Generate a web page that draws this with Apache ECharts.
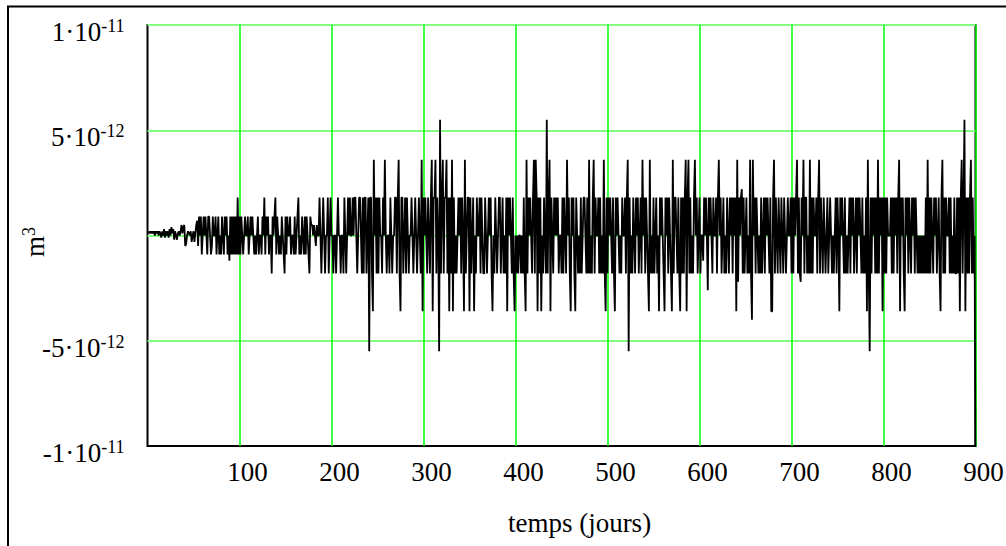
<!DOCTYPE html>
<html>
<head>
<meta charset="utf-8">
<script src="https://cdn.jsdelivr.net/npm/echarts@6/dist/echarts.min.js"></script>
<style>
  html, body { margin: 0; padding: 0; background: #ffffff; }
  #chart { width: 1006px; height: 546px; }
</style>
</head>
<body>
<div id="chart"></div>
<script>
// Values, in units of 1e-12 m³, one per day.
const vol_d001_100 = [
  0.2, 0.1, 0.2, 0.1, 0.2, 0.1, 0.2, 0, 0.2, 0.1,
  0.2, 0, 0.2, 0.1, -0.1, 0.2, 0, 0.3, -0.1, 0.2,
  0, 0.2, -0.1, 0.3, 0, 0.4, 0.1, 0.3, -0.2, 0.2,
  0, -0.2, 0.1, 0.2, 0, 0.2, 0.5, 0.1, 0.4, 0.5,
  -0.5, -0.4, 0, 0.2, 0.1, 0, 0.2, -0.3, 0, 0.2,
  -0.3, 0.1, 0.5, 0.7, -0.5, 0.9, 0, 0.9, -0.9, 0,
  0.9, 0, 0.9, 0, -0.9, 0.9, 0.9, 0, -0.9, -0.5,
  0.9, 0, 0, 0.9, -0.9, 0, 0.9, -0.9, 0, -0.9,
  0.9, 0, -0.9, 0.9, 0, 0.9, -0.9, 0, -1.2, 0.9,
  -0.9, 0.9, -0.9, 0.9, -0.9, 0.9, -0.9, 1.8, -0.9, 0.9
];
const vol_d101_200 = [
  -0.9, 0.9, 0, -0.9, 0, 0.9, 0, 0, 0.9, -0.9,
  0, 0.9, 0, 0.9, 0, -0.9, 0, -0.9, 0, 0.9,
  -0.9, 0, 0, -0.9, 0.9, 0, 1.8, -0.9, 0.9, 0,
  0.9, -0.9, 0, 0, -1.8, 0.9, 0, 0.9, 1.8, -0.9,
  0.9, 0, -0.9, 0, -0.9, 0.9, 0, -0.9, -1.8, 0.9,
  -0.9, 0.9, 0, 0, 0.9, -0.9, 0, 0, -0.9, 0.9,
  -0.9, 0, 0.9, 1.8, -0.9, 0, -0.9, 0.9, 0, -0.9,
  0.9, -0.9, 0.9, 0, -0.9, -1.8, 0.9, 0.5, 0.5, 0,
  0.5, 0, -0.5, 0.5, 0, 0, 1.8, 0, -1.8, 0,
  1.8, 0, -1.8, 0, 0, 1.8, -1.8, 0, 1.8, 0
];
const vol_d201_300 = [
  0, -1.8, 0, 0, -1.8, 0, 1.8, 0, 0, -1.8,
  0, 0, -1.8, 1.8, 0, -1.8, 0, 1.8, 0, 1.8,
  0, 0, 1.8, 0, 1.8, 1.8, 0, -1.8, 0, 1.8,
  1.8, 0, -1.8, 1.8, -1.8, 1.8, 1.8, -1.8, 0, 1.8,
  -5.5, 1.8, 1.8, -1.8, -3.6, 3.6, 0, 1.8, -1.8, 1.8,
  -1.8, 1.8, 0, 0, -1.8, 1.8, 0, 3.6, 0, -1.8,
  0, 0, -1.8, 1.8, 0, -1.8, 0, 0, 1.8, 1.8,
  -1.8, 1.8, 3.6, -1.8, -3.6, 1.8, 1.8, -1.8, 0, 1.8,
  -1.8, 1.8, 0, -1.8, 0, 0, 1.8, 0, -1.8, 0,
  1.8, 0, -1.8, 0, 1.8, 0, -1.8, 3.6, -3.6, 1.8
];
const vol_d301_400 = [
  0, 1.8, 0, -1.8, 1.8, 0, -1.8, 1.8, 3.6, -3.6,
  1.8, 1.8, 3.6, -1.8, 1.8, 0, -5.5, 5.5, -1.8, 1.8,
  3.6, -1.8, 1.8, 1.8, 3.6, -1.8, 1.8, -3.6, 1.8, -1.8,
  3.6, -3.6, 1.8, -1.8, 0, -1.8, 0, 1.8, 0, 1.8,
  -1.8, 1.8, 0, -3.6, 3.6, -1.8, 0, 1.8, 1.8, -3.6,
  1.8, -1.8, 0, 1.8, -3.6, 0, -1.8, 1.8, 0, 0,
  1.8, -1.8, 1.8, 0, -1.8, -1.8, 1.8, 0, -1.8, 0,
  1.8, 0, 1.8, -1.8, -3.6, 0, -1.8, 1.8, 0, -1.8,
  0, 1.8, 1.8, -1.8, 0, 1.8, -1.8, 0, -1.8, 1.8,
  -3.6, 1.8, 0, 1.8, 0, -1.8, 1.8, -1.8, -3.6, 0
];
const vol_d401_500 = [
  -1.8, 0, -1.8, 0, 0, -1.8, 0, -1.8, 1.8, -1.8,
  -3.6, 3.6, -1.8, 1.8, 0, 1.8, 0, -1.8, 1.8, 3.6,
  -1.8, 3.6, 1.8, -3.6, 1.8, -1.8, 1.8, -3.6, 0, -1.8,
  1.8, 0, -1.8, 5.5, -1.8, 1.8, 3.6, -3.6, 1.8, 0,
  -1.8, 1.8, 0, 1.8, 0, 1.8, -1.8, 0, 0, -1.8,
  1.8, -1.8, 1.8, 0, -1.8, 3.6, 0, 1.8, -1.8, -3.6,
  1.8, 0, 1.8, -1.8, -3.6, 1.8, 0, -1.8, 0, -1.8,
  1.8, -1.8, 0, 1.8, 1.8, 0, -1.8, 1.8, -1.8, 3.6,
  -1.8, 0, -1.8, 1.8, 3.6, -1.8, 1.8, 0, 0, 1.8,
  -1.8, 1.8, -1.8, 0, -1.8, 3.6, -1.8, -3.6, 1.8, -1.8
];
const vol_d501_600 = [
  1.8, 0, 1.8, 0, -1.8, 1.8, -1.8, -3.6, 1.8, 0,
  1.8, 0, -1.8, 0, -1.8, 1.8, 0, 0, 1.8, -1.8,
  1.8, 3.6, -5.5, 1.8, -1.8, 0, -1.8, 1.8, 0, -1.8,
  1.8, 0, 1.8, -1.8, 0, 1.8, -1.8, 3.6, 0, 1.8,
  -1.8, 1.8, 0, -1.8, -3.6, 3.6, -1.8, 0, -1.8, 1.8,
  -1.8, 0, 1.8, -1.8, 0, -3.6, 1.8, 0, 1.8, 0,
  -1.8, -3.6, 1.8, 0, 1.8, -1.8, 1.8, 0, -1.8, -3.6,
  3.6, -1.8, 1.8, 1.8, 0, -1.8, 1.8, -1.8, -3.6, 1.8,
  -1.8, 1.8, -1.8, 1.8, 3.6, -3.6, 1.8, 3.6, -1.8, 1.8,
  -1.8, 0, -1.8, 1.8, 3.6, 0, 1.8, -1.8, 0, 1.8
];
const vol_d601_700 = [
  -1.8, 0, 0, -1.2, 1.8, 0, 1.8, 0, -2.6, 1.8,
  0, 1.8, 0, -1.8, 1.8, 0, 0, 1.8, -1.8, 1.8,
  3.6, 0, 1.8, -1.8, 0, 1.8, -1.8, 0, -1.8, 1.8,
  0, -1.8, 1.8, 0, 1.8, -1.8, 1.8, 0, 1.8, -3.6,
  3.6, -2.2, 1.8, 0, 1.8, 2.2, -1.8, 1.8, -1.8, 0,
  1.8, -1.8, 0, -1.8, 3.6, -1.8, -4.0, 3.6, 0, 1.8,
  -1.8, 1.8, 0, -1.8, 0, -1.8, 1.8, -1.8, 0, 1.8,
  -1.8, 1.8, 0, 1.8, 0, -1.8, 1.8, -3.6, -3.6, 1.8,
  3.6, -1.8, 1.8, 0, -1.8, 1.8, 0, -1.8, 1.8, 0,
  -1.8, 1.8, 0, -1.8, 0, 1.8, 0, 0, 1.8, -1.8
];
const vol_d701_800 = [
  1.8, -1.8, 1.8, 0, 1.8, 3.6, -1.8, 1.8, -1.8, -2.2,
  1.8, 0, 3.6, -1.8, 1.8, 1.8, -1.8, 0, -1.8, 3.6,
  -1.8, 1.8, -1.8, 1.8, 0, 0, 1.8, -1.8, 1.8, 3.6,
  -1.8, 1.8, 0, -1.8, 1.8, 0, -1.8, 0, 1.8, -1.8,
  0, 1.8, 0, -1.8, 0, -1.8, 0, 1.8, -1.8, 1.8,
  0, -3.6, 1.8, 0, 1.8, 0, -1.8, 1.8, -1.8, 0,
  -1.8, 0, 1.8, -1.8, 1.8, 0, 1.8, -1.8, 0, 1.8,
  -1.8, 1.8, 0, 1.8, 0, -1.8, 1.8, -1.8, 0, -1.8,
  1.8, -3.6, 3.6, -1.8, -5.5, 1.8, -1.8, 1.8, 0, 1.8,
  -1.8, 1.8, -1.8, 3.6, -1.8, 1.8, 0, 1.8, -3.6, 1.8
];
const vol_d801_900 = [
  -1.8, 1.8, -1.8, 1.8, 0, 0, 0, 1.8, -1.8, 1.8,
  -1.8, 1.8, 0, 1.8, -1.8, 1.8, 3.6, -3.6, 1.8, 0,
  1.8, -1.8, -3.6, 1.8, 0, 1.8, -1.8, 1.8, 0, -1.8,
  1.8, 0, 1.8, -1.8, 1.8, 0, -1.8, 0, -1.8, 0,
  -1.8, 0, -1.8, 0, -1.8, 1.8, -1.8, 3.6, -1.8, 1.8,
  -1.8, 1.8, 0, -1.8, 1.8, 0, 1.8, -1.8, 0, 1.8,
  -1.8, -3.6, 1.8, 3.6, -1.8, 1.8, -1.8, 1.8, 0, 0,
  1.8, -1.8, 1.8, -1.8, 0, -1.8, 1.8, -1.8, -1.8, 1.8,
  -1.8, 1.8, -3.6, 1.8, 3.6, -1.8, 1.8, 5.5, -3.6, 1.8,
  -1.8, 1.8, -1.8, 1.8, 3.6, -1.8, 1.8, -1.8, 0, -12
];

const xTickValues = [100, 200, 300, 400, 500, 600, 700, 800, 900];
const yTickLabels = {
  '10': '{b|1·10}{s|-11}',
  '5': '{b|5·10}{s|-12}',
  '0': '',
  '-5': '{b|-5·10}{s|-12}',
  '-10': '{b|-1·10}{s|-11}'
};
const xTitle = 'temps (jours)';
const yTitle = '{b|m}{s|3}';

const volume = [].concat(vol_d001_100, vol_d101_200, vol_d201_300, vol_d301_400,
  vol_d401_500, vol_d501_600, vol_d601_700, vol_d701_800, vol_d801_900);
const seriesData = volume.map((v, i) => [i + 1, v]);

const FONT = "'Liberation Serif', 'Times New Roman', serif";
const richTexts = {
  b: { fontFamily: FONT, fontSize: 27, lineHeight: 30, color: '#000000' },
  s: { fontFamily: FONT, fontSize: 18, lineHeight: 20, verticalAlign: 'top', color: '#000000' }
};
const chart = echarts.init(document.getElementById('chart'), null, { renderer: 'svg' });
chart.setOption({
  animation: false,
  backgroundColor: '#ffffff',
  grid: {
    left: 147.5, right: 30.5, top: 25, bottom: 100,
    outerBoundsMode: 'none',
    containLabel: false,
    show: true, borderColor: '#000000', borderWidth: 2, backgroundColor: 'transparent'
  },
  xAxis: {
    type: 'value', min: 0, max: 900, interval: 100,
    axisLine: { show: false },
    axisTick: { show: false },
    splitLine: { show: true, showMinLine: false, showMaxLine: true, lineStyle: { color: '#00ff00', width: 1.5 } },
    axisLabel: {
      margin: 12,
      padding: [0, 0, 0, 16],
      color: '#000000',
      fontFamily: FONT,
      fontSize: 27,
      formatter: v => (xTickValues.indexOf(Math.round(v)) >= 0 ? String(Math.round(v)) : '')
    },
    name: xTitle,
    nameLocation: 'middle',
    nameGap: 63,
    nameMoveOverlap: false,
    nameTextStyle: { color: '#000000', fontFamily: FONT, fontSize: 27, padding: [0, 0, 0, 36] }
  },
  yAxis: {
    type: 'value', min: -10, max: 10, interval: 5,
    axisLine: { show: false },
    axisTick: { show: false },
    splitLine: { show: true, showMinLine: false, showMaxLine: true, lineStyle: { color: '#80ff80', width: 2 } },
    axisLabel: {
      margin: 23,
      padding: [14, 0, 0, 0],
      color: '#000000',
      formatter: v => { const k = String(Math.round(v)); return yTickLabels[k] !== undefined ? yTickLabels[k] : ''; },
      rich: richTexts
    },
    name: yTitle,
    nameLocation: 'middle',
    nameRotate: 90,
    nameGap: 98,
    nameMoveOverlap: false,
    nameTextStyle: { padding: [0, 13, 0, 0], rich: richTexts }
  },
  graphic: [{
    type: 'rect', z: -10, silent: true,
    shape: { x: 8, y: 6.5, width: 1200, height: 800 },
    style: { fill: 'none', stroke: '#000000', lineWidth: 2 }
  }],
  series: [{
    type: 'line',
    data: seriesData,
    showSymbol: false,
    clip: true,
    sampling: 'none',
    lineStyle: { color: '#000000', width: 1.8 },
    emphasis: { disabled: true }
  }]
});
</script>
</body>
</html>
